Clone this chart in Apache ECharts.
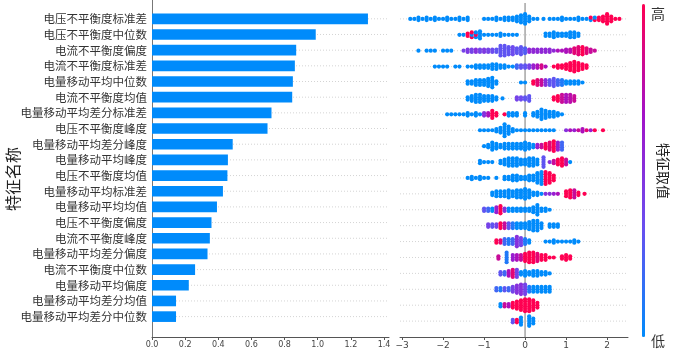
<!DOCTYPE html>
<html>
<head>
<meta charset="utf-8">
<script src="https://cdn.jsdelivr.net/npm/echarts@6/dist/echarts.min.js"></script>
<style>
  html, body { margin: 0; padding: 0; background: #fff; }
  #chart { width: 681px; height: 351px; }
</style>
</head>
<body>
<div id="chart"></div>
<script>
// feature names, top to bottom
var featureNames = [
  "电压不平衡度标准差", "电压不平衡度中位数", "电流不平衡度偏度", "电流不平衡度标准差",
  "电量移动平均中位数", "电流不平衡度均值", "电量移动平均差分标准差", "电压不平衡度峰度",
  "电量移动平均差分峰度", "电量移动平均峰度", "电压不平衡度均值", "电量移动平均标准差",
  "电量移动平均均值", "电压不平衡度偏度", "电流不平衡度峰度", "电量移动平均差分偏度",
  "电流不平衡度中位数", "电量移动平均偏度", "电量移动平均差分均值", "电量移动平均差分中位数"
];
// mean |shap| per feature (same order)
var meanAbsShap = [1.303, 0.988, 0.870, 0.862, 0.850, 0.846, 0.721, 0.697, 0.487, 0.458,
  0.455, 0.428, 0.392, 0.359, 0.349, 0.335, 0.260, 0.222, 0.145, 0.145];

var barTicks = [0, 0.2, 0.4, 0.6, 0.8, 1.0, 1.2, 1.4];
var shapTicks = [-3, -2, -1, 0, 1, 2];

// beeswarm: per feature, [shap value, dot count, feature value 0..1]
var shapRows = [
  [[-2.8,1,0],[-2.7,1,0],[-2.6,2,0],[-2.5,1,0],[-2.4,2,0],[-2.3,1,0],[-2.2,2,0],[-2.1,1,0],[-2.0,1,0],[-1.9,2,0],[-1.8,1,0],[-1.7,1,0],[-1.6,2,0],[-1.5,1,0],[-1.4,2,0],
   [-1.0,1,0],[-0.9,1,0],[-0.8,1,0],[-0.7,2,0],[-0.6,1,0],[-0.5,2,0],[-0.4,2,0],[-0.3,2,0],[-0.2,3,0],[-0.1,4,0],[0.0,5,0],[0.1,3,0],[0.2,1,0],[0.3,1,0],[0.45,1,0],
   [0.6,1,0],[0.7,1,0],[0.8,1,0],[0.9,2,0],[1.0,1,0],[1.1,1,0],[1.2,1,0],[1.3,2,0],[1.4,1,0],[1.5,1,0],[1.6,1,0],[1.6,1,1],[1.7,1,1],[1.7,1,0],[1.8,2,1],[1.9,3,1],[2.0,5,1],[2.1,3,1],[2.2,1,1],[2.3,1,1]],
  [[-1.6,1,0],[-1.5,1,0],[-1.4,2,1],[-1.3,2,1],[-1.3,1,0],[-1.2,2,0],[-1.2,1,1],[-1.1,4,0],[-1.0,1,0],
   [-0.9,1,0],[-0.8,1,0],[-0.7,1,0],[-0.6,2,0],[-0.5,1,0],[-0.4,1,0],[-0.3,1,0],[-0.2,1,0],
   [0.5,2,0],[0.6,2,0],[0.7,3,0],[0.8,2,0],[0.9,2,0],[1.0,2,0],[1.1,3,0],[1.2,3,0],[1.3,2,0]],
  [[-2.6,1,0],[-2.4,1,0],[-2.3,1,0],[-2.2,1,0],[-2.0,1,0],[-1.9,1,0],[-1.8,1,0],
   [-1.5,1,0.4],[-1.4,2,0.45],[-1.3,2,0.4],[-1.2,2,0.5],[-1.1,2,0.4],[-1.0,2,0.45],[-0.9,2,0.4],[-0.8,2,0.35],[-0.7,2,0.3],
   [-0.6,5,0.3],[-0.5,5,0.3],[-0.4,4,0.3],[-0.3,4,0.35],[-0.2,3,0.3],[-0.1,4,0.3],[0.0,3,0.25],
   [0.1,2,0.55],[0.2,2,0.55],[0.3,2,0.55],[0.4,2,0.55],[0.5,2,0.55],[0.6,2,0.55],[0.7,1,0.55],
   [0.8,1,0.7],[0.9,1,0.7],[1.0,2,0.7],[1.1,2,0.75],[1.2,3,0.9],[1.3,4,0.9],[1.4,4,1],[1.5,3,0.9],[1.6,2,0.8],[1.7,1,0.8]],
  [[-2.2,1,0],[-2.1,1,0],[-2.0,1,0],[-1.9,1,0],[-1.7,1,0],[-1.6,1,0],[-1.4,1,0],[-1.3,1,0],
   [-1.2,2,0],[-1.1,2,0],[-1.0,2,0],[-0.9,2,0],[-0.8,3,0],[-0.7,3,0],[-0.6,2,0],[-0.5,2,0],[-0.4,1,0],[-0.3,1,0],
   [-0.2,2,0.2],[-0.1,2,0.3],[0.0,2,0.3],[0.1,2,0.4],[0.2,2,0.6],[0.3,2,0.7],[0.4,2,0.85],[0.5,1,0.7],
   [0.7,1,1],[0.8,2,1],[0.9,2,1],[1.0,3,1],[1.1,4,1],[1.2,5,1],[1.3,4,1],[1.4,3,1],[1.5,2,1]],
  [[-1.4,2,0],[-1.3,2,0],[-1.2,3,0],[-1.1,3,0],[-1.0,3,0],[-0.9,4,0],[-0.8,5,0],[-0.7,2,0],
   [-0.1,1,0],[0.0,1,0],
   [0.2,2,1],[0.3,3,0.9],[0.4,3,0.8],[0.5,3,0.5],[0.6,3,0.3],[0.7,4,0.3],[0.8,3,0.2],[0.9,3,0.1],[1.0,2,0],[1.1,2,0],[1.2,2,0],[1.3,2,0],[1.4,1,0]],
  [[-1.4,2,0],[-1.3,3,0],[-1.2,4,0],[-1.1,4,0],[-1.0,3,0],[-0.9,3,0],[-0.8,3,0],[-0.7,2,0],[-0.55,1,0],
   [-0.2,2,0.4],[-0.1,2,0.35],[0.0,2,0.3],[0.1,3,0.3],
   [0.7,2,1],[0.8,3,1],[0.9,4,0.8],[1.0,4,0.7],[1.1,4,0.75],[1.2,3,0.8]],
  [[-1.9,1,0],[-1.8,1,0],[-1.7,1,0],[-1.6,1,0],[-1.5,1,0],[-1.4,2,0],[-1.3,1,0],[-1.2,2,0],[-1.1,1,0],[-1.0,2,0.5],[-0.9,2,0.7],[-0.8,4,1],[-0.7,2,1],
   [-0.5,1,1],[-0.4,2,0],[-0.3,2,0],[-0.2,2,0],[0.0,2,0],
   [0.2,2,0],[0.3,3,0],[0.4,5,0],[0.5,4,0],[0.6,3,0],[0.7,3,0],[0.8,2,0],[0.9,1,0]],
  [[-1.1,1,0],[-1.0,1,0],[-0.9,1,0],[-0.8,1,0],[-0.7,2,0],[-0.6,3,0],[-0.5,6,0],[-0.4,4,0],[-0.3,2,0],[-0.2,1,0],[-0.1,1,0],[0.0,1,0],[0.1,1,0],[0.2,1,0],[0.3,1,0],[0.4,1,0],[0.5,1,0],[0.6,1,0],[0.7,1,0],
   [1.0,1,0.5],[1.1,1,0.7],[1.2,1,0.6],[1.3,1,0.8],[1.4,2,0.7],[1.5,1,0.9],[1.6,1,0.6],[1.7,1,1],[1.9,1,1]],
  [[-1.0,1,0],[-0.9,2,0],[-0.8,4,0],[-0.7,3,0],[-0.6,2,0],[-0.5,3,0],[-0.4,3,0],[-0.3,3,0],[-0.2,3,0],[-0.1,3,0],[0.0,4,0],[0.1,3,0],[0.2,2,0],
   [0.3,2,0.6],[0.4,2,0.8],[0.5,3,1],[0.6,4,0.9],[0.7,5,1],[0.8,4,0.6],[0.9,4,0.2]],
  [[-1.1,2,0],[-1.0,1,0],[-0.9,1,0],[-0.8,1,0],
   [-0.6,2,0],[-0.5,3,0],[-0.4,4,0],[-0.3,4,0],[-0.2,4,0],[-0.1,3,0],[0.0,3,0],[0.1,4,0],[0.2,4,0],[0.3,3,0],
   [0.45,5,0.3],[0.6,1,0.5],[0.7,2,0.8],[0.8,3,1],[0.9,4,1],[1.0,3,0.8],[1.1,1,0]],
  [[-1.4,1,0],[-1.3,2,0],[-1.2,1,0],[-1.1,2,0],[-1.0,1,0],[-0.9,1,0],[-0.7,1,0],
   [-0.5,2,0],[-0.4,2,0],[-0.3,3,0],[-0.2,3,0],[-0.1,2,0],[0.0,2,0],[0.1,3,0],[0.2,3,0],
   [0.3,5,0],[0.4,6,0],[0.5,6,1],[0.6,5,1],[0.7,3,1]],
  [[-0.8,2,0],[-0.7,3,0],[-0.6,3,0],[-0.5,3,0],[-0.4,4,0],[-0.3,3,0],[-0.2,4,0],[-0.1,4,0],[0.0,5,0],[0.1,4,0],[0.2,2,0],[0.3,2,0],[0.4,1,0],
   [0.5,1,0.5],[0.6,1,0.5],[0.7,1,0.6],[0.8,1,0.7],
   [1.0,3,1],[1.1,4,1],[1.2,4,0.8],[1.3,2,1],[1.45,1,1]],
  [[-1.0,2,0.3],[-0.9,2,0.2],[-0.8,2,0],[-0.7,3,0.6],[-0.6,4,1],[-0.5,2,0.5],[-0.4,2,0],[-0.3,2,0],[-0.2,2,0],[-0.1,2,0],[0.0,2,0],[0.1,2,0],[0.2,3,0],[0.3,5,0],[0.4,2,0],[0.5,2,0],[0.6,1,0]],
  [[-0.9,2,0.4],[-0.8,2,0.3],[-0.7,2,0.4],[-0.6,3,1],[-0.5,3,0.8],[-0.4,3,0.3],[-0.3,3,0.1],[-0.2,3,0],[-0.1,3,0],[0.0,3,0],[0.1,4,0],[0.2,5,0],[0.3,5,0],[0.4,3,0],[0.6,2,0],[0.7,2,0],[0.8,2,0]],
  [[-0.7,2,1],[-0.6,2,0.9],[-0.5,3,0.2],[-0.4,3,0.1],[-0.3,3,0.2],[-0.2,5,0.5],[-0.1,4,0.4],[0.0,3,0.1],[0.1,2,0],
   [0.5,1,0],[0.6,1,0],[0.7,2,0],[0.8,1,0],[0.9,1,0],[1.0,1,0],[1.1,1,0],[1.2,2,0],[1.3,1,0]],
  [[-0.65,2,0.8],[-0.45,5,0.1],[-0.3,3,0.6],[-0.2,3,0.7],[-0.1,3,0.8],[0.0,4,1],[0.1,5,1],[0.2,5,1],[0.3,4,0.9],[0.4,3,1],[0.5,3,1],[0.6,1,1],[0.7,1,1],[0.9,2,1],[1.0,3,1],[1.1,2,1]],
  [[-0.6,2,0.3],[-0.5,2,0.2],[-0.4,3,0.7],[-0.3,4,0.9],[-0.2,4,0.4],[-0.1,2,0],[0.0,3,0],[0.1,2,0],[0.2,3,0],[0.3,3,0],[0.4,2,0],[0.5,2,0],[0.6,1,0]],
  [[-0.7,2,0.2],[-0.6,2,0.1],[-0.5,2,0.3],[-0.4,2,0.2],[-0.3,3,0.4],[-0.2,4,0.5],[-0.1,5,0.5],[0.0,5,0.4],[0.1,3,0.1],[0.2,3,0],[0.3,3,0],[0.4,3,0],[0.5,3,0],[0.6,3,0]],
  [[-0.6,2,0],[-0.5,2,0.8],[-0.4,2,0.7],[-0.3,3,1],[-0.2,4,1],[-0.1,5,1],[0.0,6,1],[0.1,6,1],[0.2,5,1],[0.3,3,1]],
  [[-0.3,2,0.3],[-0.2,2,1],[-0.1,4,0],[0.1,5,0],[0.2,3,0]]
];

var nRows = featureNames.length;
var barMax = 1.43;
var shapMin = -3.05, shapMax = 2.51;
var yStep = 0.15; // vertical spacing of stacked dots, in row units

// swarm layout: stack dots sharing the same x around the row centre
function swarmPoints() {
  var pts = [];
  shapRows.forEach(function (bins, i) {
    var yBase = nRows - 1 - i;
    var groups = {}, order = [];
    bins.forEach(function (b) {
      var key = b[0].toFixed(2);
      if (!groups[key]) { groups[key] = []; order.push(key); }
      groups[key].push(b);
    });
    order.forEach(function (key) {
      var list = groups[key], left = list.map(function (b) { return b[1]; });
      var dots = [], more = true;
      while (more) {
        more = false;
        list.forEach(function (b, j) {
          if (left[j] > 0) { dots.push(b); left[j]--; more = true; }
        });
      }
      dots.forEach(function (b, k) {
        pts.push([b[0], yBase + (k - (dots.length - 1) / 2) * yStep, b[2]]);
      });
    });
  });
  return pts;
}

var barData = meanAbsShap.map(function (v, i) { return [v, nRows - 1 - i]; });
var rowIndex = featureNames.map(function (n, i) { return i; });

// dotted row guide from x0 to x1
function rowGuide(x0, x1) {
  return function (params, api) {
    var y = api.value(0);
    var a = api.coord([x0, y]), b = api.coord([x1, y]);
    return {
      type: 'line',
      shape: { x1: a[0], y1: a[1], x2: b[0], y2: b[1] },
      style: { stroke: '#d4d4d4', lineWidth: 1, lineDash: [1, 2] }
    };
  };
}

var chart = echarts.init(document.getElementById('chart'));
var option = {
  animation: false,
  textStyle: { fontFamily: 'DejaVu Sans' },
  grid: [
    { left: 152, top: 0, right: 292, bottom: 14 },
    { left: 400, top: 3, right: 53, bottom: 14 }
  ],
  xAxis: [
    {
      gridIndex: 0, type: 'value', min: 0, max: barMax,
      axisLine: { onZero: false, lineStyle: { color: '#555', width: 1 } },
      axisTick: { customValues: barTicks, length: 3, lineStyle: { color: '#555' } },
      axisLabel: {
        customValues: barTicks, fontSize: 8, color: '#444', margin: 4,
        formatter: function (v) { return v.toFixed(1); }
      },
      splitLine: { show: false }
    },
    {
      gridIndex: 1, type: 'value', min: shapMin, max: shapMax,
      axisLine: { onZero: false, lineStyle: { color: '#555', width: 1 } },
      axisTick: { customValues: shapTicks, length: 3, lineStyle: { color: '#555' } },
      axisLabel: {
        customValues: shapTicks, fontSize: 9, color: '#444', margin: 4,
        formatter: function (v) { return String(v).replace('-', '\u2212'); }
      },
      splitLine: { show: false }
    }
  ],
  yAxis: [
    {
      gridIndex: 0, type: 'value', min: -1.3, max: 20.2,
      axisLine: { show: true, onZero: false, lineStyle: { color: '#777', width: 1 } },
      axisTick: { show: false },
      axisLabel: {
        customValues: rowIndex,
        fontSize: 11.5, color: '#333', margin: 5, fontFamily: 'Noto Sans CJK SC',
        formatter: function (v) { return featureNames[nRows - 1 - v]; }
      },
      splitLine: { show: false }
    },
    { gridIndex: 1, type: 'value', min: -1, max: 20, show: false }
  ],
  visualMap: {
    type: 'continuous', min: 0, max: 1, dimension: 2, seriesIndex: 4,
    orient: 'vertical', left: 642, top: 4, padding: 0,
    itemWidth: 3, itemHeight: 333, text: null, calculable: false, hoverLink: false,
    inRange: { color: ['#008bfb', '#6a4ef0', '#a312c8', '#ff0052'] }
  },
  series: [
    {
      type: 'custom', xAxisIndex: 0, yAxisIndex: 0, z: 1, silent: true,
      data: rowIndex, encode: { y: 0 }, renderItem: rowGuide(0, barMax)
    },
    {
      type: 'custom', xAxisIndex: 0, yAxisIndex: 0, z: 3, data: barData,
      encode: { x: 0, y: 1 },
      renderItem: function (params, api) {
        var y = api.value(1);
        var p0 = api.coord([0, y]);
        var p1 = api.coord([api.value(0), y]);
        var h = api.size([0, 1])[1] * 0.68;
        return {
          type: 'rect',
          shape: { x: p0[0], y: p0[1] - h / 2, width: p1[0] - p0[0], height: h },
          style: { fill: '#008bfb' }
        };
      }
    },
    {
      type: 'custom', xAxisIndex: 1, yAxisIndex: 1, z: 1, silent: true,
      data: rowIndex, encode: { y: 0 }, renderItem: rowGuide(shapMin, shapMax)
    },
    {
      type: 'custom', xAxisIndex: 1, yAxisIndex: 1, z: 2, silent: true,
      data: [0], encode: { x: 0 },
      renderItem: function (params, api) {
        var a = api.coord([api.value(0), -1]), b = api.coord([api.value(0), 20]);
        return {
          type: 'line',
          shape: { x1: a[0], y1: a[1], x2: b[0], y2: b[1] },
          style: { stroke: '#aaa', lineWidth: 1.6 }
        };
      }
    },
    {
      type: 'scatter', xAxisIndex: 1, yAxisIndex: 1, z: 4, symbolSize: 4.2,
      data: swarmPoints(), itemStyle: { opacity: 1 }
    }
  ],
  graphic: [
    { type: 'text', left: 5, top: 147, rotation: Math.PI / 2,
      style: { text: '特征名称', font: '16px "Noto Sans CJK SC"', fill: '#222' } },
    { type: 'text', x: 658, y: 14,
      style: { text: '高', font: '14px "Noto Sans CJK SC"', fill: '#333', align: 'center', verticalAlign: 'middle' } },
    { type: 'text', x: 658, y: 341,
      style: { text: '低', font: '14px "Noto Sans CJK SC"', fill: '#333', align: 'center', verticalAlign: 'middle' } },
    { type: 'text', x: 663, y: 171, rotation: -Math.PI / 2,
      style: { text: '特征取值', font: '14px "Noto Sans CJK SC"', fill: '#222', align: 'center', verticalAlign: 'middle' } }
  ]
};
chart.setOption(option);
</script>
</body>
</html>
